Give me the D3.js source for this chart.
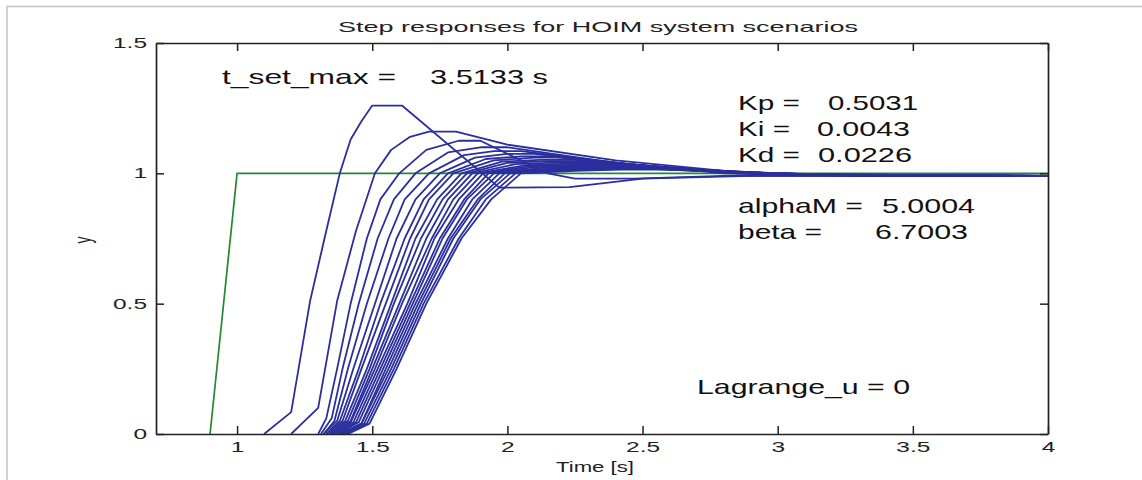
<!DOCTYPE html>
<html><head><meta charset="utf-8">
<script src="https://cdn.jsdelivr.net/npm/d3@7"></script>
<style>
body{margin:0;background:#fff;}
svg{display:block;font-family:"Liberation Sans",Arial,sans-serif;}
</style></head>
<body>
<script>
// ---- data ----
const xTicks = [1, 1.5, 2, 2.5, 3, 3.5, 4];
const yTicks = [0, 0.5, 1, 1.5];
const reference = [[0.9,0],[1.0,1.0],[4,1.0]];
const scenario01 = [[1.1,0],[1.2,0.084],[1.27,0.51],[1.33,0.78],[1.38,1.0],[1.42,1.13],[1.46,1.2],[1.5,1.26],[1.61,1.26],[1.97,0.945],[2.23,0.947],[2.5,0.98],[2.9,0.99],[4,0.99]];
const scenario02 = [[1.2,0],[1.3,0.1],[1.37,0.51],[1.44,0.78],[1.51,1.0],[1.57,1.09],[1.64,1.14],[1.71,1.16],[1.81,1.16],[2.0,1.11],[2.4,1.05],[2.85,1.005],[3.3,0.99],[4,0.99]];
const scenario03 = [[1.30,0],[1.33,0.06],[1.37,0.25],[1.42,0.5],[1.48,0.75],[1.53,0.9],[1.60,1.0],[1.7,1.09],[1.82,1.125],[1.9,1.125],[2.15,1.0],[2.25,0.98],[2.47,0.98],[2.8,0.99],[4,0.99]];
const scenario04 = [[1.31,0],[1.35,0.06],[1.39,0.25],[1.45,0.5],[1.52,0.75],[1.58,0.9],[1.66,1.0],[1.78,1.08],[1.9,1.10],[2.0,1.10],[2.4,1.04],[2.8,1.0],[3.2,0.99],[4,0.99]];
const scenario05 = [[1.32,0],[1.36,0.05],[1.41,0.25],[1.48,0.5],[1.56,0.75],[1.62,0.9],[1.71,1.0],[1.84,1.07],[1.95,1.085],[2.05,1.085],[2.45,1.035],[2.85,1.0],[3.3,0.99],[4,0.99]];
const scenario06 = [[1.32,0],[1.37,0.05],[1.43,0.25],[1.51,0.5],[1.59,0.75],[1.66,0.9],[1.75,1.0],[1.88,1.06],[2.0,1.075],[2.1,1.075],[2.5,1.03],[2.9,1.0],[3.4,0.99],[4,0.99]];
const scenario07 = [[1.33,0],[1.38,0.05],[1.45,0.25],[1.53,0.5],[1.62,0.75],[1.69,0.9],[1.78,1.0],[1.92,1.055],[2.05,1.065],[2.15,1.065],[2.55,1.025],[2.95,1.0],[3.4,0.99],[4,0.99]];
const scenario08 = [[1.33,0],[1.39,0.05],[1.46,0.25],[1.55,0.5],[1.64,0.75],[1.71,0.9],[1.80,1.0],[1.95,1.05],[2.1,1.06],[2.2,1.06],[2.6,1.02],[3.0,0.997],[4,0.99]];
const scenario09 = [[1.34,0],[1.40,0.05],[1.48,0.25],[1.57,0.5],[1.66,0.75],[1.74,0.9],[1.83,1.0],[1.98,1.045],[2.12,1.052],[2.25,1.052],[2.65,1.018],[3.0,0.997],[4,0.99]];
const scenario10 = [[1.34,0],[1.41,0.05],[1.49,0.25],[1.58,0.5],[1.68,0.75],[1.76,0.9],[1.85,1.0],[2.0,1.04],[2.15,1.047],[2.3,1.047],[2.7,1.015],[3.05,0.996],[4,0.99]];
const scenario11 = [[1.35,0],[1.42,0.05],[1.50,0.25],[1.60,0.5],[1.70,0.75],[1.78,0.9],[1.87,1.0],[2.03,1.035],[2.2,1.042],[2.33,1.042],[2.72,1.012],[3.1,0.996],[4,0.99]];
const scenario12 = [[1.35,0],[1.42,0.045],[1.51,0.25],[1.61,0.5],[1.72,0.75],[1.80,0.9],[1.89,1.0],[2.06,1.03],[2.22,1.037],[2.36,1.037],[2.75,1.01],[3.1,0.995],[4,0.99]];
const scenario13 = [[1.36,0],[1.43,0.045],[1.52,0.25],[1.63,0.5],[1.73,0.75],[1.82,0.9],[1.91,1.0],[2.08,1.027],[2.25,1.033],[2.4,1.033],[2.78,1.008],[3.15,0.995],[4,0.99]];
const scenario14 = [[1.37,0],[1.44,0.045],[1.53,0.25],[1.64,0.5],[1.75,0.75],[1.84,0.9],[1.93,1.0],[2.1,1.024],[2.28,1.029],[2.42,1.029],[2.8,1.006],[3.2,0.994],[4,0.99]];
const scenario15 = [[1.37,0],[1.45,0.045],[1.54,0.25],[1.65,0.5],[1.76,0.75],[1.85,0.9],[1.95,1.0],[2.13,1.021],[2.3,1.026],[2.45,1.026],[2.82,1.005],[3.2,0.994],[4,0.99]];
const scenario16 = [[1.38,0],[1.46,0.04],[1.55,0.25],[1.66,0.5],[1.78,0.75],[1.87,0.9],[1.97,1.0],[2.15,1.018],[2.33,1.023],[2.48,1.023],[2.85,1.004],[3.25,0.993],[4,0.99]];
const scenario17 = [[1.38,0],[1.46,0.04],[1.56,0.25],[1.67,0.5],[1.79,0.75],[1.89,0.9],[1.99,1.0],[2.18,1.016],[2.36,1.02],[2.5,1.02],[2.88,1.003],[3.3,0.993],[4,0.99]];
const scenario18 = [[1.39,0],[1.47,0.04],[1.57,0.25],[1.68,0.5],[1.80,0.75],[1.90,0.9],[2.01,1.0],[2.2,1.014],[2.38,1.018],[2.52,1.018],[2.9,1.002],[3.3,0.992],[4,0.99]];
const scenario19 = [[1.40,0],[1.48,0.04],[1.58,0.25],[1.69,0.5],[1.82,0.75],[1.92,0.9],[2.03,1.0],[2.22,1.012],[2.4,1.016],[2.55,1.016],[2.92,1.001],[3.35,0.992],[4,0.99]];
const scenario20 = [[1.41,0],[1.49,0.04],[1.59,0.25],[1.70,0.5],[1.83,0.75],[1.94,0.9],[2.05,1.0],[2.25,1.01],[2.42,1.014],[2.58,1.014],[2.95,1.0],[3.4,0.992],[4,0.99]];
const scenarios = [scenario01,scenario02,scenario03,scenario04,scenario05,scenario06,scenario07,scenario08,scenario09,scenario10,
  scenario11,scenario12,scenario13,scenario14,scenario15,scenario16,scenario17,scenario18,scenario19,scenario20];
const titleText = "Step responses for HOIM system scenarios";
const xLabel = "Time [s]";
const yLabel = "y";
const annotations = [
  ["t_set_max =", 222, 84, 174], ["3.5133 s", 430, 84, 118],
  ["Kp =", 738, 110, 62], ["0.5031", 828, 110, 90],
  ["Ki =", 738, 136, 52], ["0.0043", 817, 136, 93],
  ["Kd =", 738, 162, 62], ["0.0226", 818, 162, 94],
  ["alphaM =", 738, 213, 125], ["5.0004", 882, 213, 93],
  ["beta =", 738, 239, 84], ["6.7003", 875, 239, 93],
  ["Lagrange_u = 0", 697, 394, 213]
];

// ---- drawing ----
const W = 1142, H = 480;
const L = 156, R = 1048, T = 43, B = 434;
const STRETCH = 1.75;
const svg = d3.select("body").append("svg").attr("width", W).attr("height", H);
svg.append("rect").attr("width", W).attr("height", H).attr("fill", "#fff");
// light figure border
svg.append("path").attr("d", `M7,${H} V6.5 H${W}`).attr("fill", "none").attr("stroke", "#c4c4c4").attr("stroke-width", 1.5);

const x = d3.scaleLinear().domain([0.7, 4]).range([L, R]);
const y = d3.scaleLinear().domain([0, 1.5]).range([B, T]);

svg.append("clipPath").attr("id", "clip").append("rect")
  .attr("x", L).attr("y", T).attr("width", R - L).attr("height", B - T);

const line = d3.line().x(d => x(d[0])).y(d => y(d[1]));
const plot = svg.append("g").attr("clip-path", "url(#clip)");
plot.append("path").datum(reference).attr("d", line).attr("fill", "none")
  .attr("stroke", "#1f8a2e").attr("stroke-width", 1.7);
plot.selectAll(".scn").data(scenarios).join("path").attr("class", "scn")
  .attr("d", line).attr("fill", "none").attr("stroke", "#2b2f9e").attr("stroke-width", 1.8)
  .attr("stroke-linejoin", "round");

function styleAxis(g) {
  g.selectAll("path.domain").attr("stroke", "#222").attr("stroke-width", 1.7);
  g.selectAll(".tick line").attr("stroke", "#222").attr("stroke-width", 1.5);
  g.selectAll(".tick text").attr("fill", "#222").style("font-size", "14px")
    .style("font-family", "'Liberation Sans',Arial,sans-serif");
}
const gx = svg.append("g").attr("transform", `translate(0,${B})`)
  .call(d3.axisBottom(x).tickValues(xTicks).tickFormat(d => String(d)).tickSize(-8).tickSizeOuter(0).tickPadding(8));
styleAxis(gx);
gx.selectAll(".tick text").attr("transform", `scale(${STRETCH},1)`);

const gy = svg.append("g").attr("transform", `translate(${L},0)`)
  .call(d3.axisLeft(y).tickValues(yTicks).tickFormat(d => String(d)).tickSize(-8).tickSizeOuter(0));
styleAxis(gy);
gy.selectAll(".tick text").attr("x", -9 / STRETCH).attr("transform", `scale(${STRETCH},1)`);

const gt = svg.append("g").attr("transform", `translate(0,${T})`)
  .call(d3.axisTop(x).tickValues(xTicks).tickFormat("").tickSize(-8).tickSizeOuter(0));
styleAxis(gt);
const gr = svg.append("g").attr("transform", `translate(${R},0)`)
  .call(d3.axisRight(y).tickValues(yTicks).tickFormat("").tickSize(-8).tickSizeOuter(0));
styleAxis(gr);

// title
svg.append("text").attr("x", 338).attr("y", 32).attr("textLength", 520).attr("lengthAdjust", "spacingAndGlyphs")
  .style("font-size", "15px").attr("fill", "#222").text(titleText);
// x label
svg.append("text").attr("x", 556).attr("y", 472).attr("textLength", 78).attr("lengthAdjust", "spacingAndGlyphs")
  .style("font-size", "15px").attr("fill", "#222").text(xLabel);
// y label
svg.append("text").attr("transform", `translate(91,240) scale(${STRETCH},1) rotate(-90)`)
  .attr("text-anchor", "middle").style("font-size", "14px").attr("fill", "#222").text(yLabel);

// annotations
svg.selectAll(".ann").data(annotations).join("text").attr("class", "ann")
  .attr("x", d => d[1]).attr("y", d => d[2]).attr("textLength", d => d[3]).attr("lengthAdjust", "spacingAndGlyphs")
  .style("font-size", "21px").attr("fill", "#111").text(d => d[0]);
</script>
</body></html>
